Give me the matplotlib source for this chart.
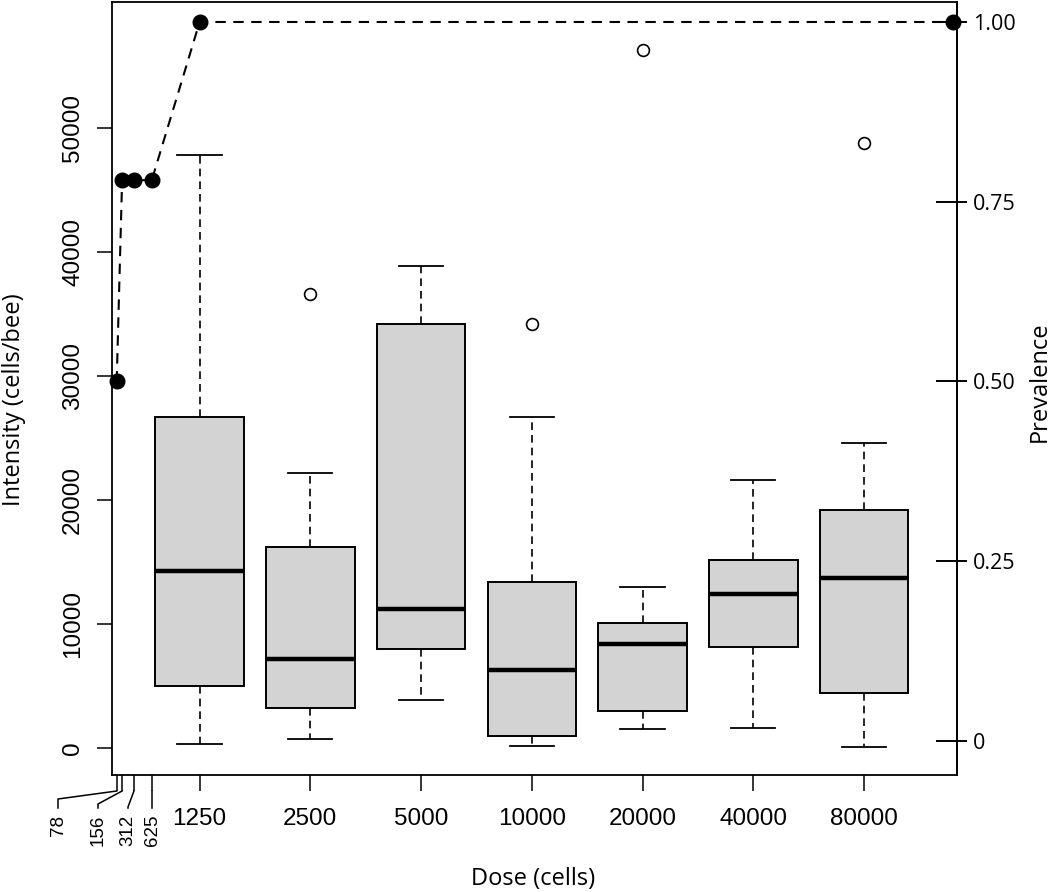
import matplotlib.pyplot as plt
from matplotlib.lines import Line2D
from matplotlib.ticker import FixedLocator
from matplotlib.transforms import Affine2D

# Infection intensity per dose group (box statistics, cells/bee)
doses = ["1250", "2500", "5000", "10000", "20000", "40000", "80000"]
whis_lo = [350, 750, 3850, 200, 1550, 1600, 50]
q1 = [5000, 3250, 8000, 1000, 2950, 8150, 4400]
med = [14300, 7200, 11200, 6300, 8350, 12450, 13750]
q3 = [26700, 16200, 34200, 13400, 10100, 15200, 19200]
whis_hi = [47800, 22200, 38900, 26700, 13000, 21600, 24600]
outliers = [[], [36600], [], [34200], [56300], [], [48800]]

# Low doses squeezed in at the left edge of the axis
low_doses = ["78", "156", "312", "625"]
low_pos = [0.251, 0.30, 0.407, 0.568]

# Prevalence (right axis)
prev_pos = low_pos + [1, 7.8]
prevalence = [0.5, 0.78, 0.78, 0.78, 1.0, 1.0]
prev_ticks = [0, 0.25, 0.5, 0.75, 1.0]
prev_labels = ["0", "0.25", "0.50", "0.75", "1.00"]

y_ticks = [0, 10000, 20000, 30000, 40000, 50000]

W, H = 1051, 892
fig = plt.figure(figsize=(W / 100, H / 100), dpi=100)
ax = fig.add_axes([111.7 / W, (H - 775) / H, (957 - 111.7) / W, 773 / H])
px = Affine2D().scale(1, -1).translate(0, H)  # pixel coords from top-left

stats = []
for i in range(len(doses)):
    stats.append(dict(med=med[i], q1=q1[i], q3=q3[i], whislo=whis_lo[i],
                      whishi=whis_hi[i], fliers=outliers[i]))

positions = list(range(1, len(doses) + 1))
ax.bxp(stats, positions=positions, widths=0.8, capwidths=0.4, patch_artist=True,
       boxprops=dict(facecolor="#d3d3d3", edgecolor="black", linewidth=1.4),
       medianprops=dict(color="black", linewidth=3.2, solid_capstyle="butt"),
       whiskerprops=dict(color="black", linewidth=1.2, linestyle=(0, (4.6, 3.0))),
       capprops=dict(color="black", linewidth=1.3),
       flierprops=dict(marker="o", markerfacecolor="none", markeredgecolor="black",
                       markersize=8.5, markeredgewidth=1.2))

ax.set_xlim(0.206, 7.84)
ax.set_ylim(-2177, 60161)

ax.set_xticks(low_pos + positions)
ax.set_xticklabels([""] * len(low_doses) + doses, fontfamily="Liberation Sans", fontsize=17.5)
ax.tick_params(axis="x", length=11.5, width=1.1, pad=12)

ax.set_yticks(y_ticks)
ax.set_yticklabels([str(v) for v in y_ticks], fontfamily="Liberation Sans", fontsize=17.5)
ax.tick_params(axis="y", length=10.8, width=1.1, pad=9)
for lbl in ax.get_yticklabels():
    lbl.set_rotation(90)
    lbl.set_va("center")

for s in ax.spines.values():
    s.set_linewidth(1.3)

# prevalence on the right axis
ax2 = ax.twinx()
ax2.set_ylim(-0.0473, 1.0278)
ax2.plot(prev_pos, prevalence, color="black", linewidth=1.5, linestyle=(0, (5, 3.6)),
         marker="o", markersize=10.5, clip_on=False, zorder=5)
ax2.set_yticks(prev_ticks)
ax2.set_yticklabels(prev_labels, fontfamily="Open Sans", fontsize=15.5)
ax2.yaxis.set_minor_locator(FixedLocator(prev_ticks))
ax2.yaxis.remove_overlapping_locs = False
ax2.tick_params(axis="y", which="major", direction="in", length=15.1, width=1.4, pad=11.5)
ax2.tick_params(axis="y", which="minor", direction="out", length=7.4, width=1.4)
for side in ["left", "top", "bottom"]:
    ax2.spines[side].set_visible(False)
ax2.spines["right"].set_linewidth(1.3)

# leader lines and labels for the squeezed low doses
label_x = [58, 98, 128, 152]
bend_y = [799, 804, 807, 791]
for pos, lx, by, txt in zip(low_pos, label_x, bend_y, low_doses):
    tx = ax.transData.transform((pos, 0))[0]
    fig.add_artist(Line2D([tx, tx, lx, lx], [791, 791, by, 808], transform=px,
                          color="black", linewidth=1.1))
    fig.text(lx, 815, txt, transform=px, rotation=90, ha="center", va="top",
             fontsize=13.5, fontfamily="Liberation Sans")

fig.text(14, 400, "Intensity (cells/bee)", transform=px, rotation=90,
         ha="center", va="center", fontsize=17, fontfamily="Open Sans")
fig.text(533, 879, "Dose (cells)", transform=px, ha="center", va="center",
         fontsize=17, fontfamily="Open Sans")
fig.text(1040, 382, "Prevalence", transform=px, rotation=90,
         ha="center", va="center", fontsize=17, fontfamily="Open Sans")

fig.savefig("out.png", dpi=100)
plt.close(fig)
